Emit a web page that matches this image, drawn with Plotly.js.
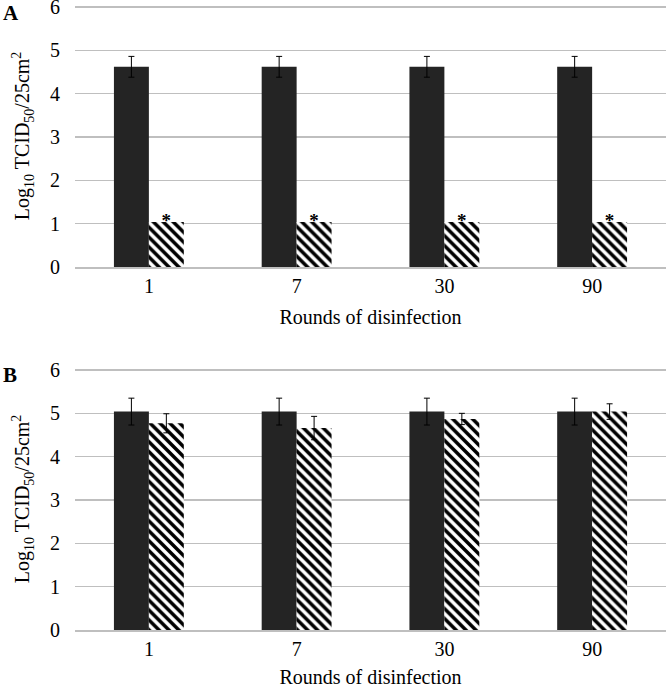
<!DOCTYPE html>
<html>
<head>
<meta charset="utf-8">
<script src="https://cdn.plot.ly/plotly-3.0.1.min.js"></script>
<style>html,body{margin:0;padding:0;background:#fff;}#chart{width:666px;height:688px;}</style>
</head>
<body>
<div id="chart"></div>
<script>
// Rounds of disinfection (categories)
const rounds = ['1', '7', '30', '90'];

// Panel A
const controlA = [4.62, 4.62, 4.62, 4.62];
const controlAErr = [0.24, 0.24, 0.24, 0.24];
const treatedA = [1.04, 1.04, 1.04, 1.04];
const treatedAMark = ['*', '*', '*', '*'];

// Panel B
const controlB = [5.04, 5.04, 5.04, 5.04];
const controlBErr = [0.31, 0.31, 0.31, 0.31];
const treatedB = [4.77, 4.66, 4.87, 5.04];
const treatedBErr = [0.22, 0.27, 0.13, 0.18];

const yTickVals = [0, 1, 2, 3, 4, 5, 6];

const FONT = '"Liberation Serif", "Times New Roman", serif';
const dark = '#242424';
const hatch = {shape: '\\', fgcolor: '#000000', bgcolor: '#ffffff', fgopacity: 1, size: 7, solidity: 0.5, fillmode: 'replace'};
const errStyle = {type: 'data', visible: true, color: '#000000', thickness: 1, width: 3};
const GAP = 0.527;

const traces = [
  {type: 'bar', x: rounds, y: controlA, xaxis: 'x', yaxis: 'y', offsetgroup: 'c', marker: {color: dark, line: {width: 0}},
   error_y: Object.assign({array: controlAErr}, errStyle), showlegend: false, hoverinfo: 'skip'},
  {type: 'bar', x: rounds, y: treatedA, xaxis: 'x', yaxis: 'y', offsetgroup: 't', marker: {color: '#ffffff', pattern: hatch, line: {width: 0}},
   showlegend: false, hoverinfo: 'skip'},
  // helper scatter traces aligned with the bar groups; the second carries the significance marks
  {type: 'scatter', mode: 'text', x: rounds, y: controlA, text: rounds.map(() => ''), xaxis: 'x', yaxis: 'y', offsetgroup: 'c',
   showlegend: false, hoverinfo: 'skip'},
  {type: 'scatter', mode: 'text', x: rounds, y: treatedA, text: treatedAMark, textposition: 'middle center', xaxis: 'x', yaxis: 'y', offsetgroup: 't',
   textfont: {family: FONT, size: 19, color: '#000', weight: 'bold'}, cliponaxis: false, showlegend: false, hoverinfo: 'skip'},
  {type: 'bar', x: rounds, y: controlB, xaxis: 'x2', yaxis: 'y2', offsetgroup: 'c', marker: {color: dark, line: {width: 0}},
   error_y: Object.assign({array: controlBErr}, errStyle), showlegend: false, hoverinfo: 'skip'},
  {type: 'bar', x: rounds, y: treatedB, xaxis: 'x2', yaxis: 'y2', offsetgroup: 't', marker: {color: '#ffffff', pattern: hatch, line: {width: 0}},
   error_y: Object.assign({array: treatedBErr}, errStyle), showlegend: false, hoverinfo: 'skip'}
];

const H = 688, MT = 2, MB = 58, PH = H - MT - MB;
const YMAX = 6.05, PXU = 43.4;
function dom(p) { return 1 - (p - MT) / PH; }
function yAx(top6, bottom, anchor) {
  const top = top6 - (YMAX - 6) * PXU;
  return {
    domain: [Math.max(0, dom(bottom)), Math.min(1, dom(top))], anchor: anchor,
    range: [0, YMAX], tickvals: yTickVals, ticks: '', ticklabelstandoff: 14, ticklabeloverflow: 'allow',
    showgrid: true, gridcolor: '#bfbfbf', gridwidth: 1.5, zeroline: false, showline: false,
    tickfont: {family: FONT, size: 20, color: '#000'},
    title: {text: 'Log<sub>10</sub> TCID<sub>50</sub>/25cm<sup>2</sup>', font: {family: FONT, size: 20, color: '#000'}, standoff: 14}
  };
}
function xAx(anchor) {
  return {
    anchor: anchor, type: 'category', range: [-0.5, 3.5], ticks: '', ticklabelstandoff: 0,
    showgrid: false, zeroline: false, showline: true, linecolor: '#bfbfbf', linewidth: 1.5,
    tickfont: {family: FONT, size: 20, color: '#000'},
    title: {text: 'Rounds of disinfection', font: {family: FONT, size: 20, color: '#000'}, standoff: 14}
  };
}

const layout = {
  width: 666, height: 688,
  margin: {l: 75, r: 0, t: MT, b: MB},
  paper_bgcolor: '#ffffff', plot_bgcolor: '#ffffff',
  barmode: 'group', bargap: GAP, bargroupgap: 0,
  scattermode: 'group', scattergap: GAP,
  font: {family: FONT, color: '#000'},
  showlegend: false,
  xaxis: xAx('y'), yaxis: yAx(7, 267, 'x'),
  xaxis2: xAx('y2'), yaxis2: yAx(370, 630, 'x2'),
  annotations: [
    {text: '<b>A</b>', xref: 'paper', yref: 'paper', x: -74 / 591, xanchor: 'left', y: dom(13), yanchor: 'middle',
     showarrow: false, font: {family: FONT, size: 21, color: '#000'}},
    {text: '<b>B</b>', xref: 'paper', yref: 'paper', x: -74 / 591, xanchor: 'left', y: dom(375), yanchor: 'middle',
     showarrow: false, font: {family: FONT, size: 21, color: '#000'}}
  ]
};

Plotly.newPlot('chart', traces, layout, {displayModeBar: false, staticPlot: true});
</script>
</body>
</html>
